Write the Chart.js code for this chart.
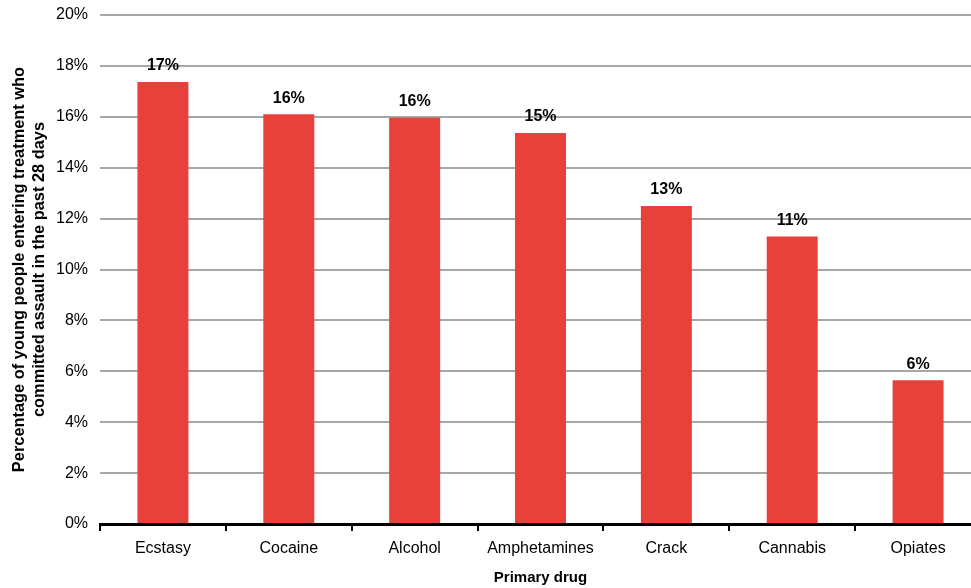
<!DOCTYPE html>
<html>
<head>
<meta charset="utf-8">
<script src="https://cdn.jsdelivr.net/npm/chart.js@4"></script>
<style>
    html, body { margin: 0; padding: 0; background: #fff; overflow: hidden; }
    #wrap { width: 990px; height: 588px; position: relative; }
</style>
</head>
<body>
<div id="wrap"><canvas id="assaultChart"></canvas></div>
<script>
// Data
const drugs = ['Ecstasy', 'Cocaine', 'Alcohol', 'Amphetamines', 'Crack', 'Cannabis', 'Opiates'];
const assaultPct = [17.37, 16.1, 15.96, 15.36, 12.5, 11.3, 5.65];
const yTicks = [0, 2, 4, 6, 8, 10, 12, 14, 16, 18, 20];

Chart.defaults.font.family = "'Liberation Sans', Arial, sans-serif";
Chart.defaults.color = '#000';

// value labels above each bar
const barLabels = {
    id: 'barLabels',
    afterDatasetsDraw(chart) {
        const ctx = chart.ctx;
        const meta = chart.getDatasetMeta(0);
        ctx.save();
        ctx.font = "bold 16px 'Liberation Sans', Arial, sans-serif";
        ctx.fillStyle = '#000';
        ctx.textAlign = 'center';
        ctx.textBaseline = 'middle';
        meta.data.forEach((bar, i) => {
            ctx.fillText(Math.round(assaultPct[i]) + '%', bar.x, bar.y - 16);
        });
        ctx.restore();
    }
};

new Chart(document.getElementById('assaultChart'), {
    type: 'bar',
    data: {
        labels: drugs,
        datasets: [{
            data: assaultPct,
            backgroundColor: '#E8403A',
            borderWidth: 0,
            categoryPercentage: 1,
            barPercentage: 0.405
        }]
    },
    options: {
        responsive: true,
        maintainAspectRatio: false,
        animation: false,
        layout: { padding: { top: 15, right: 9, left: 0, bottom: 0 } },
        plugins: {
            legend: { display: false },
            tooltip: { enabled: false }
        },
        scales: {
            x: {
                afterFit: (s) => { s.height = 64; },
                grid: {
                    offset: true,
                    drawOnChartArea: false,
                    drawTicks: true,
                    tickLength: 7,
                    color: '#000',
                    lineWidth: 2
                },
                border: { display: true, color: '#000', width: 3 },
                ticks: { font: { size: 16 }, padding: 8, maxRotation: 0 },
                title: {
                    display: true,
                    text: 'Primary drug',
                    font: { size: 15, weight: 'bold', lineHeight: 1.2 },
                    padding: { top: 0, bottom: 1 }
                }
            },
            y: {
                min: 0,
                max: 20,
                afterFit: (s) => { s.width = 100; s.paddingTop = 0; s.paddingBottom = 0; },
                afterBuildTicks: (s) => { s.ticks = yTicks.map(v => ({ value: v })); },
                grid: { color: '#A6A6A6', lineWidth: 2, drawTicks: false },
                border: { display: false },
                ticks: {
                    font: { size: 16 },
                    padding: 12,
                    callback: (v) => v + '%'
                },
                title: {
                    display: true,
                    text: ['Percentage of young people entering treatment who',
                           'committed assault in the past 28 days'],
                    font: { size: 16.4, weight: 'bold', lineHeight: '20px' },
                    padding: { top: 9, bottom: 0 }
                }
            }
        }
    },
    plugins: [barLabels]
});
</script>
</body>
</html>
